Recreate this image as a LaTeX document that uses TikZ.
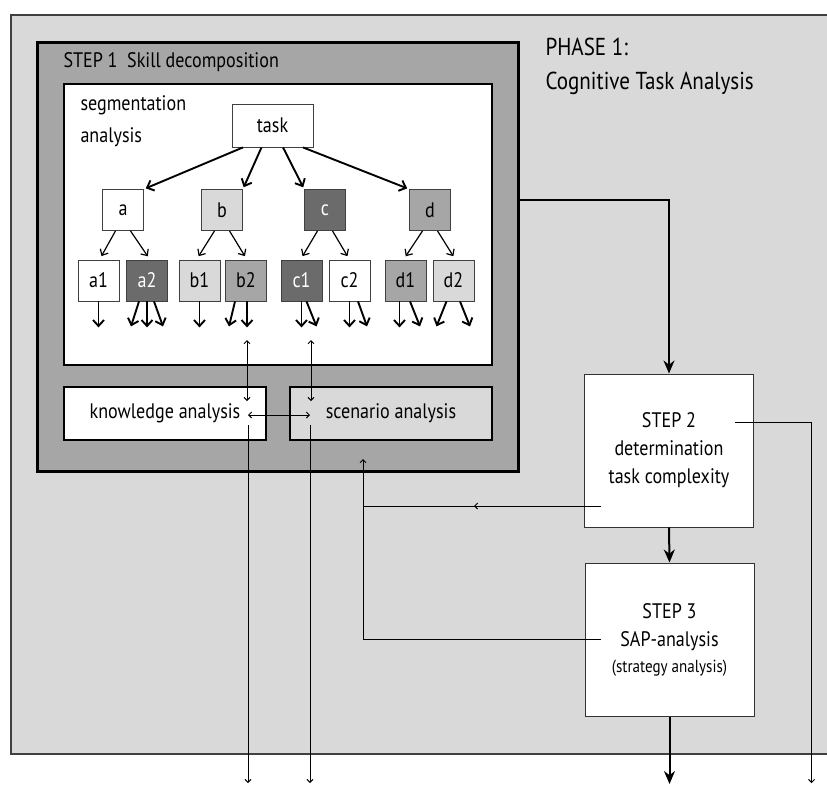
\documentclass[tikz,border=0pt]{standalone}
\usepackage{fontspec}
\setmainfont{PT Sans}[FakeStretch=0.86]
\usetikzlibrary{arrows.meta}

\definecolor{lightgr}{gray}{0.85}
\definecolor{midgr}{gray}{0.65}
\definecolor{darkgr}{gray}{0.42}

\begin{document}
\begin{tikzpicture}[x=1pt,y=-1pt,
    leaf/.style={draw=black!75,line width=0.8pt,minimum width=41pt,minimum height=41pt,inner sep=0pt,font=\fontsize{21}{24}\selectfont},
    part/.style={draw=black,line width=2.4pt,minimum width=202pt,minimum height=53pt,inner sep=0pt,font=\fontsize{21}{24}\selectfont},
    stepbox/.style={draw=black!80,fill=white,line width=1pt,minimum width=169pt,minimum height=153pt,align=center,font=\fontsize{21}{28}\selectfont},
    br/.style={-{Straight Barb[length=6pt,width=11pt]},line width=1.9pt},
    sb/.style={-{Straight Barb[length=5pt,width=9pt]},line width=1.2pt},
    flow/.style={-{Stealth[length=13pt,width=11pt]},line width=2pt},
    fb/.style={-{Straight Barb[length=3pt,width=6pt]},line width=0.9pt},
    dbl/.style={{Straight Barb[length=3pt,width=6pt]}-{Straight Barb[length=3pt,width=6pt]},line width=0.9pt}]

    \useasboundingbox (0,0) rectangle (827,785);
    \clip (0,0) rectangle (827,785);

    % phase frame
    \fill[lightgr] (11,15) rectangle (840,754);
    \draw[black!75,line width=1.5pt] (840,15) -- (11,15) -- (11,754) -- (840,754);
    \node[anchor=west,align=left,font=\fontsize{24.5}{34}\selectfont] (phase) at (542,66) {PHASE 1:\\Cognitive Task Analysis};

    % step 1
    \node[draw,fill=midgr,line width=3pt,minimum width=481pt,minimum height=429pt,inner sep=0pt] (step1) at (277.5,256.5) {};
    \node[anchor=west,font=\fontsize{21}{24}\selectfont] (s1lab) at (60,62) {STEP 1\ \ Skill decomposition};
    \node[draw,fill=white,line width=2.4pt,minimum width=428pt,minimum height=281pt,inner sep=0pt] (seg) at (278,224.5) {};
    \node[anchor=west,align=left,font=\fontsize{21}{32}\selectfont] (seglab) at (77,121) {segmentation\\analysis};
    \node[part,fill=white] (know) at (165,413.5) {knowledge analysis\hspace{6pt}};
    \node[part,fill=lightgr] (scen) at (391,413.5) {scenario analysis};

    % tree
    \node[leaf,fill=white,minimum width=81pt,minimum height=43pt] (task) at (272.5,125.5) {task};
    \node[leaf,fill=white] (a) at (123,210) {a};
    \node[leaf,fill=lightgr] (b) at (222,210) {b};
    \node[leaf,fill=darkgr,text=white] (c) at (325,210) {c};
    \node[leaf,fill=midgr] (d) at (430,210) {d};

    \node[leaf,fill=white] (a1) at (98.5,280.5) {a1};
    \node[leaf,fill=darkgr,text=white] (a2) at (147,280.5) {a2};
    \node[leaf,fill=lightgr] (b1) at (199.5,280.5) {b1};
    \node[leaf,fill=midgr] (b2) at (246,280.5) {b2};
    \node[leaf,fill=darkgr,text=white] (c1) at (301.5,280.5) {c1};
    \node[leaf,fill=white] (c2) at (349.5,280.5) {c2};
    \node[leaf,fill=midgr] (d1) at (405.5,280.5) {d1};
    \node[leaf,fill=lightgr] (d2) at (453.5,280.5) {d2};

    \path[br,shorten >=2pt]
    ([xshift=-29.5]task.south) edge (a.north east)
    ([xshift=-11]task.south) edge (b.north east)
    ([xshift=10.5]task.south) edge (c.north west)
    ([xshift=30.5]task.south) edge (d.north west);

    \path[sb,shorten >=4pt]
    ([xshift=-7.5]a.south) edge ([xshift=1]a1.north)
    ([xshift=7.5]a.south) edge ([xshift=3]a2.north)
    ([xshift=-7.5]b.south) edge ([xshift=-3]b1.north)
    ([xshift=7.5]b.south) edge ([xshift=1]b2.north)
    ([xshift=-7.5]c.south) edge ([xshift=-1]c1.north)
    ([xshift=7.5]c.south) edge (c2.north)
    ([xshift=-7.5]d.south) edge ([xshift=-2]d1.north)
    ([xshift=7.5]d.south) edge ([xshift=2]d2.north);

    \draw[br] (a1.south) -- ++(0,26);
    \draw[br] ([xshift=-8]a2.south) -- ++(-8,25);
    \draw[br] (a2.south) -- ++(0,26);
    \draw[br] ([xshift=7]a2.south) -- ++(9,25);
    \draw[br] (b1.south) -- ++(0,26);
    \draw[br] ([xshift=-11]b2.south) -- ++(-6,25);
    \draw[br] ([xshift=1]b2.south) -- ++(0,26);
    \draw[br] (c1.south) -- ++(0,26);
    \draw[br] ([xshift=5]c1.south) -- ++(10,25);
    \draw[br] (c2.south) -- ++(0,26);
    \draw[br] ([xshift=8.5]c2.south) -- ++(9,25);
    \draw[br] ([xshift=-6]d1.south) -- ++(0,26);
    \draw[br] ([xshift=4.5]d1.south) -- ++(10,25);
    \draw[br] ([xshift=-7]d2.south) -- ++(-10,25);
    \draw[br] ([xshift=6.5]d2.south) -- ++(10,25);

    % steps 2 and 3
    \node[stepbox] (step2) at (669,450.5) {STEP 2\\determination\\task complexity};
    \node[stepbox] (step3) at (669.5,639.5) {STEP 3\\SAP-analysis\\[-2pt]{\fontsize{17.5}{20}\selectfont(strategy analysis)}};

    % link points
    \coordinate (kt) at (247,340);
    \coordinate (kb) at (247,401);
    \coordinate (st) at (311,340);
    \coordinate (sbt) at (311,401);
    \coordinate (kl) at (248,415);
    \coordinate (sr) at (310,415);
    \coordinate (kd) at (248,425);
    \coordinate (ko) at (248,783);
    \coordinate (sd) at (310,425);
    \coordinate (so) at (310,783);
    \coordinate (back) at (363,459);
    \coordinate (jn) at (363,506);
    \coordinate (mid) at (474,506);
    \coordinate (s2in) at (601,506);
    \coordinate (cnr) at (363,639);
    \coordinate (s3in) at (601,639);
    \coordinate (s2r) at (735,422);
    \coordinate (rc) at (811.5,422);
    \coordinate (ro) at (811.5,783);
    \coordinate (out1) at (518,200);
    \coordinate (bend1) at (669,200);
    \coordinate (end3) at (669.5,784);

    \draw[dbl] (kt) -- (kb);
    \draw[dbl] (st) -- (sbt);
    \draw[dbl] (kl) -- (sr);
    \draw[fb] (kd) -- (ko);
    \draw[fb] (sd) -- (so);

    \draw[line width=0.9pt] (s2in) -- (jn);
    \draw[fb] (s2in) -- (mid);
    \draw[fb] (s3in) -- (cnr) -- (back);
    \draw[fb] (s2r) -- (rc) -- (ro);

    \draw[flow] (out1) -- (bend1) -- (step2.north);
    \draw[flow] (step2.south) -- (step3.north);
    \draw[flow] (step3.south) -- (end3);

\end{tikzpicture}
\end{document}
